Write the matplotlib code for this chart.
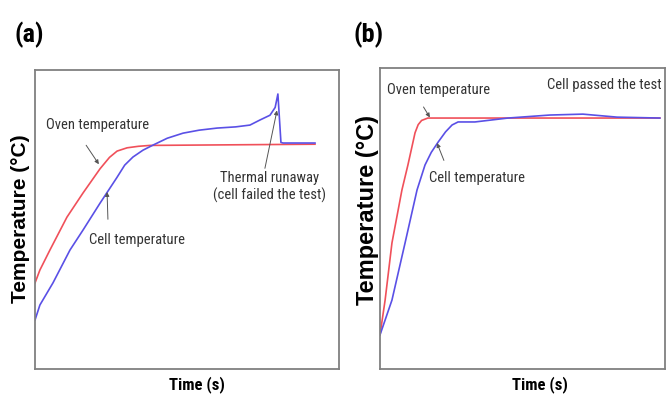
import matplotlib.pyplot as plt

# panel (a): cell fails the oven test
oven_a_x = [0, 1.6, 4.9, 10.5, 15.8, 21.4, 24.5, 27.0, 30.3, 34, 37.8, 92.1]
oven_a_y = [28.8, 33.1, 39.8, 50.8, 58.9, 67.0, 70.8, 72.9, 74.0, 74.5, 74.8, 75.2]
cell_a_x = [0, 1.6, 5.9, 11.5, 15.8, 21.4, 26.9, 29.5, 32.2, 35.5, 38.8, 43.5, 48.7, 54, 59.9,
            66, 70.7, 74.0, 77.3, 79.0, 79.9, 80.9, 81.6, 92.1]
cell_a_y = [16.4, 21.4, 28.8, 39.8, 46.5, 55.5, 64.0, 68.2, 70.9, 73.2, 74.9, 77.2, 78.9, 79.9, 80.6,
            81.0, 81.6, 83.3, 84.9, 87.5, 92.0, 75.8, 75.6, 75.6]

# panel (b): cell passes
oven_b_x = [0, 1.8, 4.2, 7.7, 9.8, 12.3, 13.4, 14.6, 16.8, 98.2]
oven_b_y = [11.3, 22.9, 41.9, 59.5, 67.8, 78.5, 81.2, 82.6, 83.4, 83.4]
cell_b_x = [0, 4.2, 8.8, 13.0, 15.8, 18.0, 20.4, 23.0, 25.3, 27.4, 33.3, 44.9, 59.6, 71.2, 83.2, 98.2]
cell_b_y = [11.3, 22.9, 41.9, 59.5, 67.8, 72.0, 75.4, 78.8, 81.1, 82.1, 82.1, 83.4, 84.4, 84.7, 83.7, 83.4]

red = '#f0505a'
blue = '#5a50e6'
narrow = ['Roboto Condensed', 'Archivo Narrow', 'Liberation Sans', 'DejaVu Sans']
arrow = dict(arrowstyle='-|>', color='#555555', lw=0.7, mutation_scale=6)

fig = plt.figure(figsize=(6.71, 3.98), dpi=100)
ax1 = fig.add_axes([0.0522, 0.0729, 0.453, 0.751])
ax2 = fig.add_axes([0.5663, 0.0729, 0.4247, 0.756])

for ax in (ax1, ax2):
    ax.set_xlim(0, 100)
    ax.set_ylim(0, 100)
    ax.set_xticks([])
    ax.set_yticks([])
    for s in ax.spines.values():
        s.set_color('#808080')
        s.set_linewidth(1.3)

ax1.plot(oven_a_x, oven_a_y, color=red, lw=1.2)
ax1.plot(cell_a_x, cell_a_y, color=blue, lw=1.2)
ax2.plot(oven_b_x, oven_b_y, color=red, lw=1.2)
ax2.plot(cell_b_x, cell_b_y, color=blue, lw=1.2)

fs = 10.5
ax1.annotate('Oven temperature', xy=(21.0, 68.5), xytext=(20.7, 81.6),
             ha='center', va='center', fontsize=fs, family=narrow, color='#333333',
             arrowprops=dict(arrow, shrinkA=9, shrinkB=0, relpos=(0.3, 0)))
ax1.annotate('Cell temperature', xy=(23.7, 59.2), xytext=(33.6, 43.1),
             ha='center', va='center', fontsize=fs, family=narrow, color='#333333',
             arrowprops=dict(arrow, shrinkA=8, shrinkB=0, relpos=(0.2, 1)))
ax1.annotate('Thermal runaway\n(cell failed the test)', xy=(79.6, 86.5), xytext=(77.3, 60.9),
             ha='center', va='center', fontsize=fs, family=narrow, color='#333333',
             linespacing=1.2, arrowprops=dict(arrow, shrinkA=0, shrinkB=0, relpos=(0.45, 1)))

ax2.annotate('Oven temperature', xy=(17.5, 83.6), xytext=(20.4, 92.7),
             ha='center', va='center', fontsize=fs, family=narrow, color='#333333',
             arrowprops=dict(arrow, shrinkA=6, shrinkB=0, relpos=(0.3, 0)))
ax2.annotate('Cell temperature', xy=(20.0, 75.1), xytext=(34.0, 63.5),
             ha='center', va='center', fontsize=fs, family=narrow, color='#333333',
             arrowprops=dict(arrow, shrinkA=6, shrinkB=0, relpos=(0.2, 1)))
ax2.text(98.9, 94.4, 'Cell passed the test', ha='right', va='center',
         fontsize=fs, family=narrow, color='#333333')

fig.text(0.043, 0.912, '(a)', ha='center', va='center', fontsize=19,
         fontweight='bold', family=narrow)
fig.text(0.55, 0.912, '(b)', ha='center', va='center', fontsize=19,
         fontweight='bold', family=narrow)

fig.text(0.030, 0.450, 'Temperature (°C)', rotation=90, ha='center', va='center',
         fontsize=15, fontweight='bold', family=['Liberation Sans', 'DejaVu Sans'])
fig.text(0.548, 0.472, 'Temperature (°C)', rotation=90, ha='center', va='center',
         fontsize=17, fontweight='bold', family=['Liberation Sans', 'DejaVu Sans'])
fig.text(0.293, 0.033, 'Time (s)', ha='center', va='center', fontsize=12,
         fontweight='bold', family=narrow)
fig.text(0.805, 0.033, 'Time (s)', ha='center', va='center', fontsize=12,
         fontweight='bold', family=narrow)

fig.savefig('out.png', dpi=100)
